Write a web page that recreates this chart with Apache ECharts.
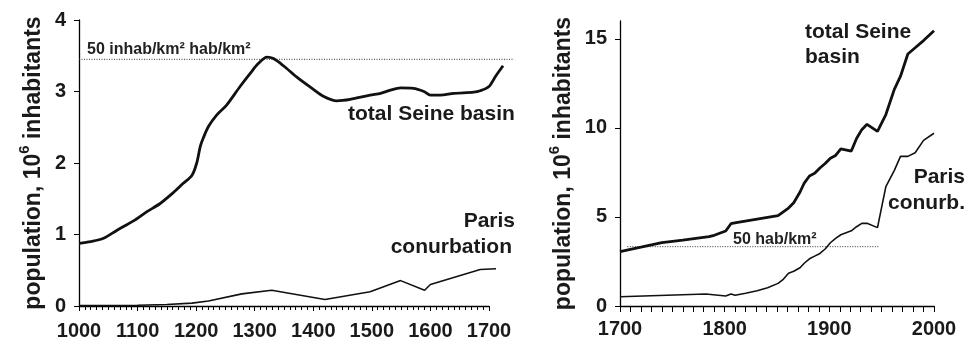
<!DOCTYPE html>
<html><head><meta charset="utf-8">
<script src="https://cdn.jsdelivr.net/npm/echarts@6/dist/echarts.min.js"></script>
<style>html,body{margin:0;padding:0;background:#fff}#c{width:966px;height:341px}</style>
</head><body><div id="c"></div>
<script>
// ---- Left panel (1000–1720) ----
const seineYearsL = [1000,1020,1042,1065,1093,1116,1138,1161,1178,1193,1201,1207,1212,1221,1235,1252,1275,1292,1306,1321,1332,1349,1372,1395,1418,1440,1463,1497,1515,1532,1549,1571,1589,1600,1617,1640,1674,1685,1700,1711,1724];
const seineValsL  = [0.877,0.90,0.947,1.06,1.19,1.32,1.43,1.585,1.716,1.83,2.0,2.23,2.345,2.51,2.67,2.81,3.07,3.25,3.39,3.48,3.46,3.36,3.2,3.06,2.93,2.87,2.89,2.95,2.975,3.02,3.05,3.045,3.0,2.95,2.95,2.975,2.99,3.01,3.07,3.21,3.36];
const parisYearsL = [1000,1100,1150,1193,1221,1278,1329,1420,1497,1549,1590,1600,1685,1712];
const parisValsL  = [0.005,0.01,0.02,0.04,0.07,0.17,0.22,0.09,0.2,0.355,0.22,0.30,0.51,0.52];
const refYearsL = [1000,1743];
const refValL = 3.45;
const refLabelL = '50 inhab/km² hab/km²';

// ---- Right panel (1700–2000) ----
const seineYearsR = [1700,1720,1740,1760,1785,1790,1801,1806,1811,1831,1851,1861,1866,1872,1876,1881,1886,1891,1896,1901,1906,1911,1921,1926,1931,1936,1946,1954,1962,1968,1975,1982,1990,2000];
const seineValsR  = [3.05,3.3,3.56,3.7,3.89,3.97,4.21,4.62,4.68,4.88,5.07,5.5,5.8,6.4,6.9,7.3,7.45,7.75,8.0,8.3,8.45,8.82,8.7,9.4,9.9,10.2,9.8,10.75,12.15,12.9,14.15,14.5,14.9,15.45];
const parisYearsR = [1700,1782,1801,1806,1810,1820,1831,1841,1851,1856,1861,1866,1872,1876,1881,1886,1891,1896,1901,1906,1911,1921,1926,1931,1936,1946,1954,1962,1968,1975,1982,1990,2000];
const parisValsR  = [0.52,0.67,0.56,0.67,0.6,0.72,0.86,1.03,1.27,1.5,1.84,1.95,2.15,2.4,2.65,2.8,2.95,3.2,3.55,3.8,4.0,4.22,4.45,4.64,4.64,4.4,6.7,7.6,8.4,8.4,8.6,9.3,9.7];
const refYearsR = [1707,1948];
const refValR = 3.33;
const refLabelR = '50 hab/km²';

const xTicksL = [1000,1700,100];
const xDataMaxL = 1745;           // data on the left panel runs slightly past the last tick
const xTicksR = [1700,2000,100];
const yTicksL = [0,4,1];
const yTicksR = [0,5,10,15];

const zip = (xs, ys) => xs.map((x,i)=>[x, Array.isArray(ys)?ys[i]:ys]);
const FF = '"Liberation Sans", Arial, Helvetica, sans-serif';
const TXT = '#1a1a1a';

const yName = {
  name: '{b|population, 10}{s|6}{b| inhabitants}',
  nameLocation: 'middle', nameRotate: 90,
  nameTextStyle: {
    rich: {
      b: {fontSize: 23, fontWeight: 'bold', fontFamily: FF, color: TXT, lineHeight: 28, verticalAlign: 'bottom'},
      s: {fontSize: 15, fontWeight: 'bold', fontFamily: FF, color: TXT, lineHeight: 28, verticalAlign: 'top'}
    }
  }
};
const axLine = {show: true, lineStyle: {color: '#000', width: 1.3}};
const lab = (m) => ({fontSize: 20, fontWeight: 'bold', fontFamily: FF, color: TXT, margin: m, formatter: v => String(v)});

// left panel geometry: visible axis 1000..1700 over 410 px; data grid extended proportionally
const gL = {left: 79, width: 410, top: 20, bottom: 35};
const dataWidthL = gL.width * (xDataMaxL - xTicksL[0]) / (xTicksL[1] - xTicksL[0]);

const chart = echarts.init(document.getElementById('c'), null, {renderer: 'canvas'});
chart.setOption({
  animation: false,
  backgroundColor: '#fff',
  grid: [
    {left: gL.left, width: gL.width, top: gL.top, bottom: gL.bottom},
    {left: 620, right: 32, top: 21, bottom: 35},
    {left: gL.left, width: dataWidthL, top: gL.top, bottom: gL.bottom}
  ],
  xAxis: [
    {gridIndex: 0, type: 'value', min: xTicksL[0], max: xTicksL[1], interval: xTicksL[2],
     axisLine: axLine, axisTick: {show: true, length: 5, lineStyle: {color: '#000'}},
     minorTick: {show: true, splitNumber: 10, length: 4, lineStyle: {color: '#000'}},
     axisLabel: lab(15), splitLine: {show: false}},
    {gridIndex: 1, type: 'value', min: xTicksR[0], max: xTicksR[1], interval: xTicksR[2],
     axisLine: axLine, axisTick: {show: true, length: 6, lineStyle: {color: '#000'}},
     minorTick: {show: true, splitNumber: 10, length: 6, lineStyle: {color: '#000'}},
     axisLabel: lab(13), splitLine: {show: false}},
    {gridIndex: 2, type: 'value', min: xTicksL[0], max: xDataMaxL, show: false}
  ],
  yAxis: [
    Object.assign({gridIndex: 0, type: 'value', min: yTicksL[0], max: yTicksL[1], interval: yTicksL[2],
     axisLine: axLine, axisTick: {show: true, length: 5, lineStyle: {color: '#000'}},
     axisLabel: lab(13), splitLine: {show: false}, nameGap: 34}, yName),
    Object.assign({gridIndex: 1, type: 'value', min: 0, max: 16,
     axisLine: axLine, axisTick: {show: true, length: 5, lineStyle: {color: '#000'}, customValues: yTicksR},
     axisLabel: Object.assign(lab(13), {customValues: yTicksR}), splitLine: {show: false}, nameGap: 45}, yName),
    {gridIndex: 2, type: 'value', min: yTicksL[0], max: yTicksL[1], show: false}
  ],
  series: [
    {type: 'line', xAxisIndex: 2, yAxisIndex: 2, data: zip(refYearsL, refValL), showSymbol: false,
     lineStyle: {color: '#333', width: 1, type: [1, 1.5]}},
    {type: 'line', xAxisIndex: 2, yAxisIndex: 2, data: zip(seineYearsL, seineValsL), showSymbol: false, smooth: 0.3,
     lineStyle: {color: '#111', width: 2.8}},
    {type: 'line', xAxisIndex: 2, yAxisIndex: 2, data: zip(parisYearsL, parisValsL), showSymbol: false,
     lineStyle: {color: '#111', width: 1.6}},
    {type: 'line', xAxisIndex: 1, yAxisIndex: 1, data: zip(refYearsR, refValR), showSymbol: false,
     lineStyle: {color: '#333', width: 1, type: [1, 1.5]}},
    {type: 'line', xAxisIndex: 1, yAxisIndex: 1, data: zip(seineYearsR, seineValsR), showSymbol: false,
     lineStyle: {color: '#111', width: 2.8}},
    {type: 'line', xAxisIndex: 1, yAxisIndex: 1, data: zip(parisYearsR, parisValsR), showSymbol: false,
     lineStyle: {color: '#111', width: 1.6}}
  ],
  graphic: [
    {type: 'text', left: 87, top: 42, style: {text: refLabelL, font: 'bold 16px ' + FF, fill: '#222'}},
    {type: 'text', left: 348, top: 104, style: {text: 'total Seine basin', font: 'bold 21px ' + FF, fill: TXT}},
    {type: 'text', right: 966 - 515, top: 211, style: {text: 'Paris', font: 'bold 21px ' + FF, fill: TXT, align: 'right'}},
    {type: 'text', right: 966 - 512, top: 237, style: {text: 'conurbation', font: 'bold 21px ' + FF, fill: TXT, align: 'right'}},
    {type: 'text', left: 805, top: 22, style: {text: 'total Seine', font: 'bold 21px ' + FF, fill: TXT}},
    {type: 'text', left: 805, top: 47, style: {text: 'basin', font: 'bold 21px ' + FF, fill: TXT}},
    {type: 'text', right: 1, top: 167, style: {text: 'Paris', font: 'bold 21px ' + FF, fill: TXT, align: 'right'}},
    {type: 'text', right: 1, top: 193, style: {text: 'conurb.', font: 'bold 21px ' + FF, fill: TXT, align: 'right'}},
    {type: 'text', left: 733, top: 232, style: {text: refLabelR, font: 'bold 16px ' + FF, fill: '#222'}}
  ]
});
</script>
</body></html>
